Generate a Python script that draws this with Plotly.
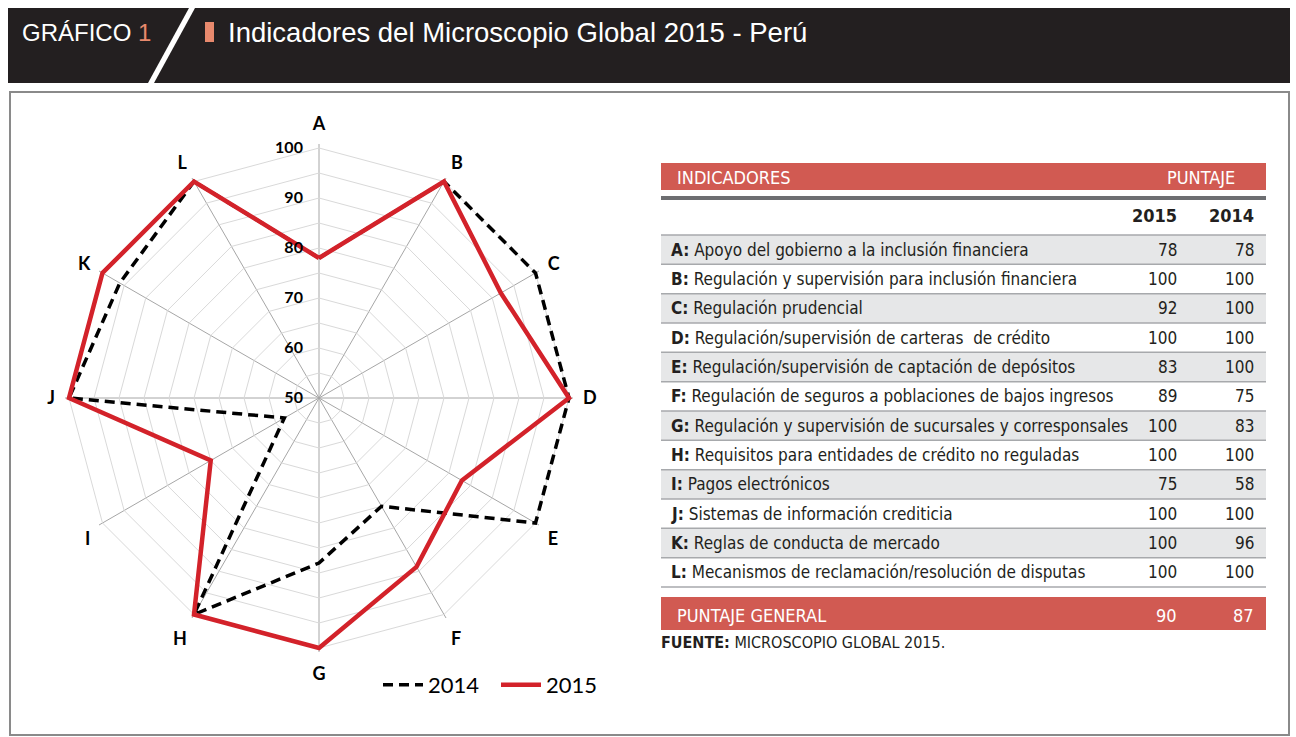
import plotly.graph_objects as go

W, H = 1296, 737

# ---- data ----
letters = ["A", "B", "C", "D", "E", "F", "G", "H", "I", "J", "K", "L"]
indicators = [
    "Apoyo del gobierno a la inclusión financiera",
    "Regulación y supervisión para inclusión financiera",
    "Regulación prudencial",
    "Regulación/supervisión de carteras  de crédito",
    "Regulación/supervisión de captación de depósitos",
    "Regulación de seguros a poblaciones de bajos ingresos",
    "Regulación y supervisión de sucursales y corresponsales",
    "Requisitos para entidades de crédito no reguladas",
    "Pagos electrónicos",
    "Sistemas de información crediticia",
    "Reglas de conducta de mercado",
    "Mecanismos de reclamación/resolución de disputas",
]
score_2015 = [78, 100, 92, 100, 83, 89, 100, 100, 75, 100, 100, 100]
score_2014 = [78, 100, 100, 100, 100, 75, 83, 100, 58, 100, 96, 100]
general_2015 = 90
general_2014 = 87
radial_ticks = [50, 55, 60, 65, 70, 75, 80, 85, 90, 95, 100]
radial_ticktext = ["50", "", "60", "", "70", "", "80", "", "90", "", "100"]

# ---- helpers ----
def px(x):
    return x / W

def py(y):
    return 1 - y / H

RED = "#d15a52"
DARK = "#231f20"
ORANGE = "#e8896d"
NARROW = "Liberation Sans Narrow, DejaVu Sans Condensed, sans-serif"
CHARTF = "Lato, Open Sans, sans-serif"
TS = 17  # table font size

# polar geometry: centre (319, 398), 250 px for 50 units; range padded so
# lines on the outer ring are not clipped
RMIN, RMAX = 50, 100.8
CX, CY = 319, 398
RPX = 250 * (RMAX - RMIN) / 50.0

fig = go.Figure()

fig.add_trace(go.Scatterpolar(
    r=score_2014 + score_2014[:1], theta=letters + letters[:1],
    mode="lines", name="2014", cliponaxis=False,
    line=dict(color="black", width=3.5, dash="10px,6px"),
))
fig.add_trace(go.Scatterpolar(
    r=score_2015 + score_2015[:1], theta=letters + letters[:1],
    mode="lines", name="2015", cliponaxis=False,
    line=dict(color="#d3222a", width=4.5),
))

fig.update_layout(
    width=W, height=H,
    margin=dict(l=0, r=0, t=0, b=0),
    paper_bgcolor="white",
    showlegend=True,
    legend=dict(
        orientation="h", x=px(378), y=py(685), xanchor="left", yanchor="middle",
        font=dict(family=CHARTF, size=22, color="black"),
        bgcolor="rgba(0,0,0,0)", itemwidth=40, tracegroupgap=0,
        entrywidth=63, entrywidthmode="pixels",
    ),
    polar=dict(
        domain=dict(x=[px(CX - RPX), px(CX + RPX)], y=[py(CY + RPX), py(CY - RPX)]),
        bgcolor="white",
        gridshape="linear",
        radialaxis=dict(
            range=[RMIN, RMAX], angle=90, tickangle=90,
            tickvals=radial_ticks, ticktext=radial_ticktext,
            showline=False, ticks="outside", ticklen=10, tickcolor="rgba(0,0,0,0)",
            gridcolor="#d9d9d9", gridwidth=1,
            tickfont=dict(family=CHARTF, size=16, color="black", weight="bold"),
            side="counterclockwise",
        ),
        angularaxis=dict(
            direction="clockwise", rotation=90,
            categoryorder="array", categoryarray=letters,
            showline=False,
            gridcolor="#a6a6a6", gridwidth=1,
            ticks="outside", ticklen=6, tickcolor="rgba(0,0,0,0)",
            tickfont=dict(family=CHARTF, size=18, color="black", weight="bold"),
        ),
    ),
)

shapes = []
annotations = []

# header bar
shapes.append(dict(type="rect", xref="paper", yref="paper",
                   x0=px(8), x1=px(1290), y0=py(83), y1=py(8),
                   fillcolor=DARK, line=dict(width=0), layer="below"))
shapes.append(dict(type="path", xref="paper", yref="paper",
                   path=f"M {px(189)} {py(8)} L {px(195)} {py(8)} L {px(154)} {py(83)} L {px(148)} {py(83)} Z",
                   fillcolor="white", line=dict(width=0)))
shapes.append(dict(type="rect", xref="paper", yref="paper",
                   x0=px(205), x1=px(214), y0=py(42), y1=py(22),
                   fillcolor=ORANGE, line=dict(width=0)))
annotations.append(dict(xref="paper", yref="paper", x=px(20), y=py(32),
                        xanchor="left", yanchor="middle", showarrow=False,
                        text=f"GRÁFICO <span style='color:{ORANGE}'>1</span>",
                        font=dict(family="Liberation Sans, sans-serif", size=24, color="white")))
annotations.append(dict(xref="paper", yref="paper", x=px(226), y=py(32),
                        xanchor="left", yanchor="middle", showarrow=False,
                        text="Indicadores del Microscopio Global 2015 - Perú",
                        font=dict(family="Liberation Sans, sans-serif", size=27.5, color="white")))

# outer box
shapes.append(dict(type="rect", xref="paper", yref="paper",
                   x0=px(10), x1=px(1289), y0=py(735), y1=py(92),
                   fillcolor="rgba(0,0,0,0)", line=dict(color="#8a8a8a", width=2)))

# table
TX0, TX1 = 661, 1266
C15, C14 = 1179, 1256
shapes.append(dict(type="rect", xref="paper", yref="paper",
                   x0=px(TX0), x1=px(TX1), y0=py(190), y1=py(163),
                   fillcolor=RED, line=dict(width=0)))
shapes.append(dict(type="rect", xref="paper", yref="paper",
                   x0=px(TX0), x1=px(TX1), y0=py(200), y1=py(196),
                   fillcolor="#6d6e71", line=dict(width=0)))
annotations.append(dict(xref="paper", yref="paper", x=px(675), y=py(177),
                        xanchor="left", yanchor="middle", showarrow=False,
                        text="INDICADORES", font=dict(family=NARROW, size=18, color="white")))
annotations.append(dict(xref="paper", yref="paper", x=px(1237), y=py(177),
                        xanchor="right", yanchor="middle", showarrow=False,
                        text="PUNTAJE", font=dict(family=NARROW, size=18, color="white")))
annotations.append(dict(xref="paper", yref="paper", x=px(C15), y=py(215),
                        xanchor="right", yanchor="middle", showarrow=False,
                        text="2015", font=dict(family=NARROW, size=18, color=DARK, weight="bold")))
annotations.append(dict(xref="paper", yref="paper", x=px(C14), y=py(215),
                        xanchor="right", yanchor="middle", showarrow=False,
                        text="2014", font=dict(family=NARROW, size=18, color=DARK, weight="bold")))

ROW0 = 235.0
RH = (587.0 - 235.0) / len(letters)
for i, (lt, txt, v15, v14) in enumerate(zip(letters, indicators, score_2015, score_2014)):
    top = ROW0 + i * RH
    bot = top + RH
    if i % 2 == 0:
        shapes.append(dict(type="rect", xref="paper", yref="paper",
                           x0=px(TX0), x1=px(TX1), y0=py(bot), y1=py(top),
                           fillcolor="#e6e7e8", line=dict(width=0), layer="below"))
    yc = py((top + bot) / 2)
    annotations.append(dict(xref="paper", yref="paper", x=px(669), y=yc,
                            xanchor="left", yanchor="middle", showarrow=False,
                            text=f"<b>{lt}:</b> {txt}",
                            font=dict(family=NARROW, size=TS, color=DARK)))
    annotations.append(dict(xref="paper", yref="paper", x=px(C15), y=yc,
                            xanchor="right", yanchor="middle", showarrow=False,
                            text=str(v15), font=dict(family=NARROW, size=TS, color=DARK)))
    annotations.append(dict(xref="paper", yref="paper", x=px(C14), y=yc,
                            xanchor="right", yanchor="middle", showarrow=False,
                            text=str(v14), font=dict(family=NARROW, size=TS, color=DARK)))
for i in range(len(letters) + 1):
    yl = ROW0 + i * RH
    shapes.append(dict(type="line", xref="paper", yref="paper",
                       x0=px(TX0), x1=px(TX1), y0=py(yl), y1=py(yl),
                       line=dict(color="#a7a9ac", width=1.5)))

shapes.append(dict(type="rect", xref="paper", yref="paper",
                   x0=px(TX0), x1=px(TX1), y0=py(630), y1=py(597),
                   fillcolor=RED, line=dict(width=0)))
annotations.append(dict(xref="paper", yref="paper", x=px(675), y=py(615),
                        xanchor="left", yanchor="middle", showarrow=False,
                        text="PUNTAJE GENERAL", font=dict(family=NARROW, size=18, color="white")))
annotations.append(dict(xref="paper", yref="paper", x=px(C15), y=py(615),
                        xanchor="right", yanchor="middle", showarrow=False,
                        text=str(general_2015), font=dict(family=NARROW, size=18, color="white")))
annotations.append(dict(xref="paper", yref="paper", x=px(C14), y=py(615),
                        xanchor="right", yanchor="middle", showarrow=False,
                        text=str(general_2014), font=dict(family=NARROW, size=18, color="white")))
annotations.append(dict(xref="paper", yref="paper", x=px(659), y=py(642),
                        xanchor="left", yanchor="middle", showarrow=False,
                        text="<b>FUENTE:</b> MICROSCOPIO GLOBAL 2015.",
                        font=dict(family=NARROW, size=16, color=DARK)))

fig.update_layout(shapes=shapes, annotations=annotations)

fig.write_html("out.html", config={"displayModeBar": False},
               post_script="document.body.style.margin='0';document.body.style.overflow='hidden';")
